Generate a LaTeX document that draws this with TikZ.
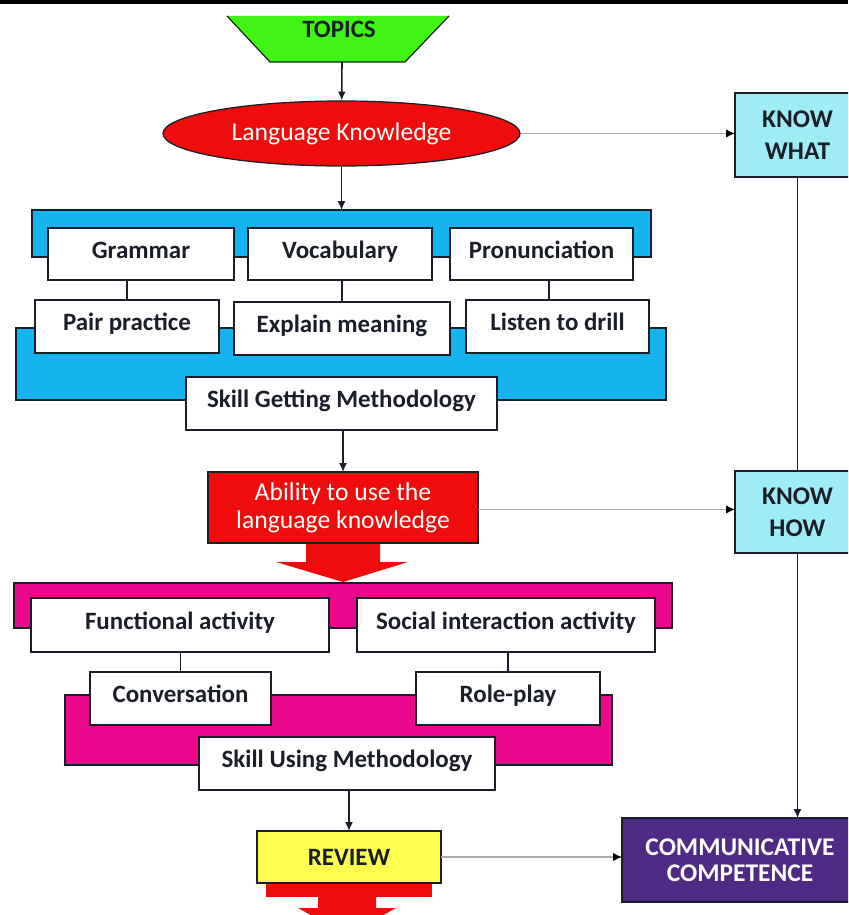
\documentclass[tikz,border=0pt]{standalone}
\usepackage{fontspec}
\setmainfont{Carlito}
\usetikzlibrary{shapes.geometric,arrows.meta}

\definecolor{topgreen}{RGB}{64,245,20}
\definecolor{lkred}{RGB}{238,12,12}
\definecolor{getblue}{RGB}{20,180,238}
\definecolor{knowcyan}{RGB}{160,236,246}
\definecolor{usemag}{RGB}{236,8,142}
\definecolor{revyellow}{RGB}{255,255,80}
\definecolor{ccpurple}{RGB}{78,42,132}
\definecolor{inkdark}{RGB}{25,30,40}

% box from corner (x1,y1) to (x2,y2), in pixel units
\newcommand\bx[7]{%
  \node[#6, minimum width={(#4-#2)*0.02cm}, minimum height={(#5-#3)*0.02cm}]
    (#1) at ({(#2+#4)/2},{(#3+#5)/2}) {#7};}
\newcommand\lbl{\fontsize{14.2}{16}\selectfont\bfseries}
\newcommand\capl{\fontsize{14.5}{17}\selectfont\bfseries}
\newcommand\redl{\fontsize{14.6}{16}\selectfont}

\tikzset{
  frame/.style={draw=inkdark, line width=0.7pt, inner sep=0pt, outer sep=0pt},
  wbox/.style={frame, fill=white, text=inkdark, font=\lbl, align=center,
    text height=1.55ex, text depth=0.5ex},
  band/.style={frame, fill=#1},
  conn/.style={line width=0.9pt, inkdark},
  tip/.style={-{Latex[length=5pt,width=4.5pt]}},
  hconn/.style={line width=0.6pt, gray!65,
    -{Latex[length=5pt,width=4.5pt,color=black]}},
}

\begin{document}
\begin{tikzpicture}[x=0.02cm,y=-0.02cm]
\useasboundingbox (0,0) rectangle (848,915);
\clip (0,0) rectangle (848,915);
\fill[white] (0,0) rectangle (848,915);

% rule along the top edge
\fill[black] (0,0) rectangle (848,4);

% topics trapezium
\fill[topgreen] (227,16) -- (449,16) -- (405,62) -- (270,62) -- cycle;
\draw[line width=0.7pt, inkdark] (227,16) -- (270,62) -- (405,62) -- (449,16);
\node[font=\lbl, text=inkdark] (topics) at (339,29) {TOPICS};
\coordinate (topicsbot) at (342,62);

% language knowledge
\node[ellipse, draw=inkdark, line width=0.7pt, fill=lkred, inner sep=0pt,
      minimum width={357*0.02cm}, minimum height={65*0.02cm},
      text=white, font=\redl] (lk) at (341.5,133.5) {Language Knowledge};

% right column
\bx{kw}{735}{93}{860}{177}{frame, fill=knowcyan, text=inkdark, font=\capl, align=center}{KNOW\\[1pt]WHAT}
\bx{kh}{735}{471}{860}{553}{frame, fill=knowcyan, text=inkdark, font=\capl, align=center}{KNOW\\[1pt]HOW}
\bx{cc}{622}{818}{858}{902}{frame, fill=ccpurple, text=white, font=\capl, align=center}{COMMUNICATIVE\\[-2pt]COMPETENCE}

% skill getting block
\bx{gettop}{32}{210}{651}{257}{band=getblue}{}
\bx{getbot}{16}{328}{666}{400}{band=getblue}{}
\bx{gr}{48}{228}{234}{280}{wbox}{Grammar}
\bx{vo}{248}{228}{432}{280}{wbox}{Vocabulary}
\bx{pr}{450}{228}{633}{280}{wbox}{Pronunciation}
\bx{pp}{35}{300}{219}{353}{wbox}{Pair practice}
\bx{em}{234}{302}{450}{355}{wbox}{Explain meaning}
\bx{ld}{466}{300}{649}{353}{wbox}{Listen to drill}
\bx{sgm}{186}{377}{497}{430}{wbox}{Skill Getting Methodology}

% ability box and its block arrow
\fill[lkred] (306,540) -- (306,562) -- (276,562) -- (343,582)
  -- (408,562) -- (380,562) -- (380,540) -- cycle;
\bx{ab}{208}{472}{478}{543}{frame, fill=lkred, text=white,
  font=\redl, align=center}{Ability to use the\\language knowledge}

% skill using block
\bx{usetop}{14}{583}{672}{628}{band=usemag}{}
\bx{usebot}{65}{695}{612}{765}{band=usemag}{}
\bx{fa}{31}{598}{329}{652}{wbox}{Functional activity}
\bx{si}{357}{598}{655}{652}{wbox}{Social interaction activity}
\bx{cv}{90}{672}{271}{725}{wbox}{Conversation}
\bx{rp}{416}{672}{600}{725}{wbox}{Role-play}
\bx{sum}{199}{737}{495}{790}{wbox}{Skill Using Methodology}

% review and its block arrow
\fill[lkred] (266,882) rectangle (432,897);
\fill[lkred] (318,896) -- (318,908) -- (298,908) -- (347,935)
  -- (396,908) -- (376,908) -- (376,896) -- cycle;
\bx{rv}{257}{831}{441}{883}{frame, fill=revyellow, text=inkdark, font=\lbl}{REVIEW}

% connectors
\draw[conn, tip] (topicsbot) -- (lk);
\draw[conn, tip] (lk.south) -- (lk.south |- gettop.north);
\draw[conn] (pp.north) -- (pp.north |- gr.south);
\draw[conn] (em.north) -- (em.north |- vo.south);
\draw[conn] ([xshift=0.15cm]pr.south) -- ([xshift=0.15cm]pr.south |- ld.north);
\draw[conn, tip] (sgm.south -| ab.north) -- (ab.north);
\draw[conn] (fa.south -| cv.north) -- (cv.north);
\draw[conn] (si.south -| rp.north) -- (rp.north);
\draw[conn, tip] (sum.south -| rv.north) -- (rv.north);

\draw[hconn] (lk.east) -- (lk.east -| kw.west);
\draw[hconn] ([yshift=-0.04cm]ab.east) -- ([yshift=-0.04cm]ab.east -| kh.west);
\draw[hconn] (rv.east) -- (rv.east -| cc.west);

\draw[conn] (kw.south) -- (kh.north);
\draw[conn, tip] (kh.south) -- (kh.south |- cc.north);
\end{tikzpicture}
\end{document}
